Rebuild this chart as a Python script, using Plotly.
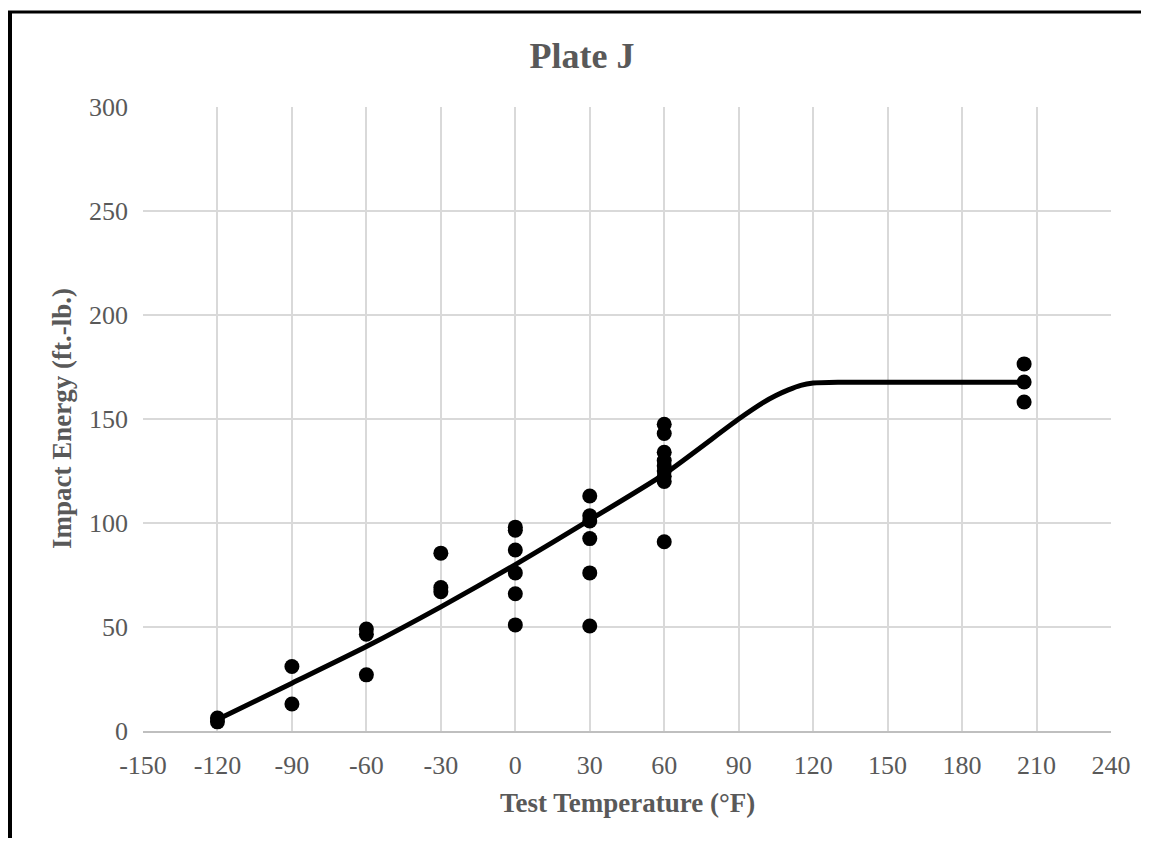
import plotly.graph_objects as go

# Measured Charpy data points
test_temp = [-120, -120, -90, -90, -60, -60, -60, -30, -30, -30,
             0, 0, 0, 0, 0, 0,
             30, 30, 30, 30, 30, 30,
             60, 60, 60, 60, 60, 60, 60, 60, 60,
             205, 205, 205]
impact_energy = [6.2, 4.4, 31, 13, 49, 46.5, 27, 85.5, 69, 67,
                 98, 96.5, 87, 76, 66, 51,
                 113, 103.5, 101, 92.5, 76, 50.5,
                 147.5, 143, 134, 130, 127.5, 125, 122.5, 120, 91,
                 176.5, 167.8, 158.2]

# Fitted transition curve
curve_temp = [-120, -90, -60, -30, 0, 30, 60, 90, 100, 105, 110, 115, 120, 130, 205]
curve_energy = [5.5, 23, 40.6, 59.7, 80, 101.5, 123.5, 150, 158, 161.3, 164, 166.2, 167.3, 167.7, 167.7]

x_ticks = [-150, -120, -90, -60, -30, 0, 30, 60, 90, 120, 150, 180, 210, 240]
y_ticks = [0, 50, 100, 150, 200, 250, 300]

FONT = "Liberation Serif, Times New Roman, serif"
GREY = "#595959"

fig = go.Figure()
fig.add_trace(go.Scatter(x=test_temp, y=impact_energy, mode="markers",
                         marker=dict(color="black", size=15), showlegend=False))
fig.add_trace(go.Scatter(x=curve_temp, y=curve_energy, mode="lines",
                         line=dict(color="black", width=5, shape="spline", smoothing=0.6),
                         showlegend=False))

OFF = 8  # page body margin
W, H = 1149 - OFF, 830
# target page-pixel positions of plot area
PL, PR, PT, PB = 143, 1111, 107, 731
L, T = PL - OFF, PT - OFF
R = W - (PR - OFF)
B = H - (PB - OFF)
pw, ph = PR - PL, PB - PT

def px_x(p):  # page pixel -> paper x
    return (p - PL) / pw

def px_y(p):  # page pixel -> paper y
    return (PB - p) / ph

fig.update_layout(
    width=W, height=H,
    margin=dict(l=L, r=R, t=T, b=B),
    paper_bgcolor="white", plot_bgcolor="white",
    font=dict(family=FONT, color=GREY, size=26),
    title=dict(text="<b>Plate J</b>", x=(582 - OFF) / W, xref="container", xanchor="center",
               y=1 - (55 - OFF) / H, yref="container", yanchor="middle",
               font=dict(family=FONT, size=36, color=GREY)),
    xaxis=dict(range=[-150, 240], tickvals=x_ticks, ticktext=[str(v) for v in x_ticks],
               showgrid=True, gridcolor="#d9d9d9", gridwidth=1.5, zeroline=False,
               showline=True, linecolor="#bfbfbf", linewidth=1.5, mirror=False,
               ticks="", ticklabelstandoff=10,
               tickfont=dict(family=FONT, size=26, color=GREY)),
    yaxis=dict(range=[0, 300], tickvals=y_ticks, ticktext=[str(v) for v in y_ticks],
               showgrid=True, gridcolor="#d9d9d9", gridwidth=1.5, zeroline=False,
               showline=False, ticks="", ticklabelstandoff=14,
               tickfont=dict(family=FONT, size=26, color=GREY)),
    annotations=[
        dict(text="<b>Test Temperature (°F)</b>", xref="paper", yref="paper",
             x=0.5, y=px_y(803), xanchor="center", yanchor="middle", showarrow=False,
             font=dict(family=FONT, size=27, color=GREY)),
        dict(text="<b>Impact Energy (ft.-lb.)</b>", xref="paper", yref="paper",
             x=px_x(62), y=0.5, xanchor="center", yanchor="middle", showarrow=False,
             textangle=-90, font=dict(family=FONT, size=27, color=GREY)),
    ],
    shapes=[
        dict(type="line", xref="paper", yref="paper", x0=px_x(10), x1=px_x(10),
             y0=px_y(11), y1=px_y(900), line=dict(color="black", width=4)),
        dict(type="line", xref="paper", yref="paper", x0=px_x(8), x1=px_x(1200),
             y0=px_y(12), y1=px_y(12), line=dict(color="black", width=3)),
    ],
)

fig.write_html("out.html")
